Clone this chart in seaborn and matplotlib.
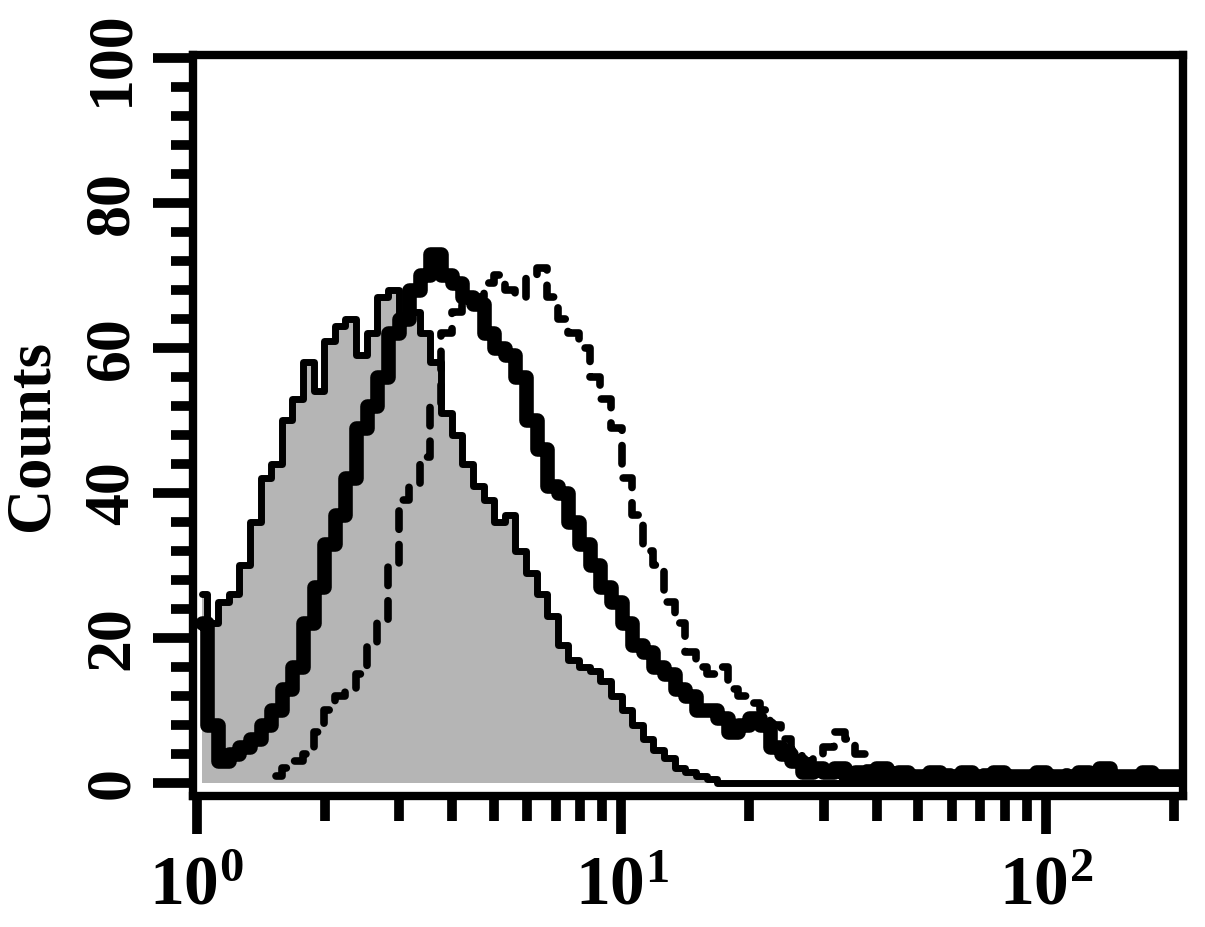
import numpy as np
import matplotlib
matplotlib.use("Agg")
import matplotlib.pyplot as plt
import seaborn as sns
from matplotlib.ticker import MultipleLocator, NullFormatter, LogLocator

# %%
# log-spaced channels (93 bins from 10^0 to 10^2.325)
bin_edges = np.logspace(0, 2.325, 94)
channels = np.sqrt(bin_edges[:-1] * bin_edges[1:])

# control (grey filled)
control = [26, 22, 25, 26, 30, 36, 42, 44, 50, 53,
           58, 54, 61, 63, 64, 59, 62, 67, 68, 64,
           65, 62, 58, 51, 48, 44, 41, 39, 36, 37,
           32, 29, 26, 23, 19, 17, 16, 15.5, 14, 12,
           10, 8, 6, 4.5, 3.5, 2, 1.5, 1, 0.5, 0,
           0, 0, 0, 0, 0, 0, 0, 0, 0, 0,
           0, 0, 0, 0, 0, 0, 0, 0, 0, 0,
           0, 0, 0, 0, 0, 0, 0, 0, 0, 0,
           0, 0, 0, 0, 0, 0, 0, 0, 0, 0,
           0, 0, 0]

# sample 1 (thick solid)
sample_solid = [22, 8, 3, 4, 5, 6, 8, 10, 13, 16,
                22, 27, 33, 37, 42, 49, 52, 56, 62, 64,
                68, 70, 73, 70, 69, 67, 66, 62, 60, 59,
                56, 50, 46, 41, 40, 36, 33, 30, 27, 25,
                22, 19, 18, 16, 15, 13, 12, 10, 10, 9,
                7, 8, 9, 8, 5, 4, 3, 1.5, 2, 1.5,
                2, 1, 1.5, 1, 2, 1, 1.5, 1, 1, 1.5,
                1, 1, 1.5, 1, 1, 1.5, 1, 1, 1, 1.5,
                1, 1, 1, 1.5, 1, 2, 1, 1, 1, 1.5,
                1, 1, 1]

# sample 2 (dashed)
sample_dashed = [None, None, None, None, None, None, None, 1, 2, 3,
                 4, 7, 10, 12, 13, 15, 19, 22, 30, 39,
                 41, 45, 52, 62, 65, 66, 67, 69, 70, 68,
                 67, 70, 71, 67, 64, 62, 60, 56, 53, 49,
                 42, 37, 32, 30, 25, 22, 18, 16, 15, 16,
                 13, 12, 11, 10, 8, 6, 4.5, 3, 4, 5,
                 7, 6, 4, 2, 1.5, 1, 1.5, 1, 1, 1,
                 1.5, 1, 1, 1, 1.5, 1, 1, 1, 1, 1,
                 1, 1.5, 1, 1, 1, 1, 1.5, 1, 1, 1,
                 1, 1, 1]

x_ticks = [1, 10, 100]
x_labels = [r"$\mathbf{10^{0}}$", r"$\mathbf{10^{1}}$", r"$\mathbf{10^{2}}$"]
y_ticks = [0, 20, 40, 60, 80, 100]

# %%
sns.set_theme(style="ticks")
plt.rcParams["font.family"] = ["Liberation Serif", "DejaVu Serif"]
plt.rcParams["font.weight"] = "bold"
plt.rcParams["mathtext.fontset"] = "custom"
plt.rcParams["mathtext.rm"] = "Liberation Serif:bold"
plt.rcParams["mathtext.bf"] = "Liberation Serif:bold"
for key in ["text.color", "axes.labelcolor", "xtick.color", "ytick.color", "axes.edgecolor"]:
    plt.rcParams[key] = "black"

fig = plt.figure(figsize=(12.05, 9.27), dpi=100)
ax = fig.add_axes([0.1602, 0.1413, 0.8216, 0.7994])

ctrl = np.array(control, dtype=float)
dash = np.array([np.nan if v is None else v for v in sample_dashed], dtype=float)
ok = ~np.isnan(dash)

# grey filled control histogram
ax.fill_between(channels, ctrl, step="mid", color="#b5b5b5", lw=0, zorder=1)
sns.lineplot(x=channels, y=ctrl, ax=ax, color="black", lw=5,
             drawstyle="steps-mid", estimator=None, sort=False, zorder=2)

# dashed sample
sns.lineplot(x=channels[ok], y=dash[ok], ax=ax, color="black", lw=5.5,
             linestyle=(0, (2.4, 2.0)), dash_capstyle="round",
             drawstyle="steps-mid", estimator=None, sort=False, zorder=3)

# thick solid sample
sns.lineplot(x=channels, y=sample_solid, ax=ax, color="black", lw=10.5,
             drawstyle="steps-mid", estimator=None, sort=False, zorder=4)

ax.set_xscale("log")
ax.set_xlim(0.98, 210)
ax.set_ylim(-1.8, 100.4)

ax.set_xticks(x_ticks)
ax.set_xticklabels(x_labels, fontsize=50)
ax.xaxis.set_minor_locator(LogLocator(base=10, subs=np.arange(2, 10)))
ax.xaxis.set_minor_formatter(NullFormatter())

ax.set_yticks(y_ticks)
ax.set_yticklabels([str(v) for v in y_ticks], fontsize=46, fontweight="bold",
                   rotation=90, va="center")
ax.yaxis.set_minor_locator(MultipleLocator(4))

ax.tick_params(axis="x", which="major", length=27, width=7, pad=16, direction="out")
ax.tick_params(axis="x", which="minor", length=18, width=7, direction="out")
ax.tick_params(axis="y", which="major", length=29, width=7, pad=8, direction="out")
ax.tick_params(axis="y", which="minor", length=16, width=7, direction="out")

for s in ax.spines.values():
    s.set_linewidth(6)
    s.set_color("black")

ax.set_xlabel("")
ax.set_ylabel("Counts", fontsize=45, fontweight="bold")
ax.yaxis.set_label_coords(-0.133, 0.487)
ax.set_facecolor("white")

fig.savefig("out.png", dpi=100, facecolor="white")
